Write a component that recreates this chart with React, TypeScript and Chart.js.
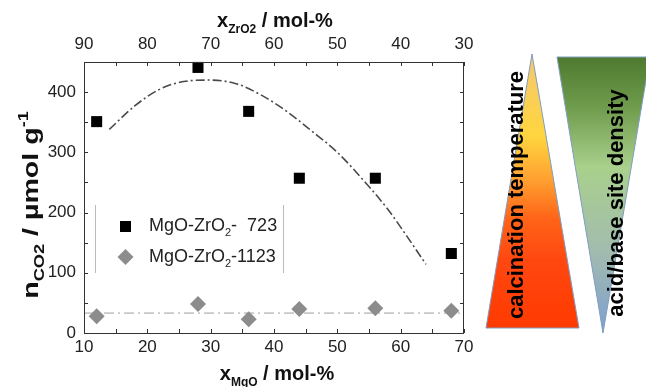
import React, { useEffect, useRef } from 'react';
import { Chart, registerables } from 'chart.js';

Chart.register(...registerables);

// ---- data ----
const mgoContent = [12, 28, 36, 44, 56, 68];
const co2Calc723 = [351, 441, 368, 257, 257, 132];
const co2Calc1123 = [28, 48, 23, 40, 41, 37];
const fit723X = [14, 18, 22, 26, 30, 34, 38, 42, 46, 50, 54, 58, 62, 64];
const fit723Y = [338, 377, 405, 418, 420, 414, 395, 368, 335, 300, 255, 205, 145, 114];
const fit1123X = [10, 70];
const fit1123Y = [33, 33];

const xTicksMgO = [10, 20, 30, 40, 50, 60, 70];
const xMinorMgO = [15, 25, 35, 45, 55, 65];
const xTicksZrO2 = [90, 80, 70, 60, 50, 40, 30];
const xMinorZrO2 = [85, 75, 65, 55, 45, 35];
const yTicks = [0, 100, 200, 300, 400];
const yMinor = [50, 150, 250, 350];

const legendNames = [
  { main: 'MgO-ZrO', sub: '2', tail: '-  723' },
  { main: 'MgO-ZrO', sub: '2', tail: '-1123' },
];
const gradientLabels = ['calcination temperature', 'acid/base site density'];

const FONT = '"Liberation Sans", Arial, sans-serif';

function drawRich(ctx: CanvasRenderingContext2D, parts: { t: string; size: number; dy: number }[], cx: number, cy: number, bold: boolean) {
  let total = 0;
  for (const p of parts) {
    ctx.font = `${bold ? 'bold ' : ''}${p.size}px ${FONT}`;
    total += ctx.measureText(p.t).width;
  }
  let x = cx - total / 2;
  for (const p of parts) {
    ctx.font = `${bold ? 'bold ' : ''}${p.size}px ${FONT}`;
    ctx.fillText(p.t, x, cy + p.dy);
    x += ctx.measureText(p.t).width;
  }
}

const decorPlugin = {
  id: 'decor',
  afterDraw(chart: any) {
    const ctx: CanvasRenderingContext2D = chart.ctx;
    const { left, right, top, bottom } = chart.chartArea;
    const xs = chart.scales.x;
    const xt = chart.scales.x2;
    const ys = chart.scales.y;
    ctx.save();
    // frame
    ctx.strokeStyle = '#333';
    ctx.lineWidth = 1;
    ctx.strokeRect(Math.round(left) + 0.5, Math.round(top) + 0.5, Math.round(right - left) - 1, Math.round(bottom - top));
    // ticks (inward)
    const tl = 4;
    ctx.beginPath();
    [...xTicksMgO, ...xMinorMgO].forEach((v) => {
      const px = Math.round(xs.getPixelForValue(v)) + 0.5;
      ctx.moveTo(px, bottom); ctx.lineTo(px, bottom - tl);
    });
    [...xTicksZrO2, ...xMinorZrO2].forEach((v) => {
      const px = Math.round(xt.getPixelForValue(v)) + 0.5;
      ctx.moveTo(px, top); ctx.lineTo(px, top + tl);
    });
    [...yTicks, ...yMinor].forEach((v) => {
      const py = Math.round(ys.getPixelForValue(v)) + 0.5;
      ctx.moveTo(left, py); ctx.lineTo(left + tl, py);
      ctx.moveTo(right, py); ctx.lineTo(right - tl, py);
    });
    ctx.stroke();

    // axis titles
    ctx.fillStyle = '#111';
    ctx.textBaseline = 'alphabetic';
    ctx.textAlign = 'left';
    drawRich(ctx, [
      { t: 'x', size: 20, dy: 0 },
      { t: 'ZrO2', size: 12, dy: 6 },
      { t: ' / mol-%', size: 20, dy: 0 },
    ], (left + right) / 2 + 1, 27, true);
    drawRich(ctx, [
      { t: 'x', size: 20, dy: 0 },
      { t: 'MgO', size: 12, dy: 6 },
      { t: ' / mol-%', size: 20, dy: 0 },
    ], (left + right) / 2 + 3, 380, true);
    ctx.save();
    ctx.translate(38, 205);
    ctx.rotate(-Math.PI / 2);
    ctx.scale(1.3, 1);
    drawRich(ctx, [
      { t: 'n', size: 22, dy: 0 },
      { t: 'CO2', size: 14, dy: 6 },
      { t: ' / µmol g', size: 22, dy: 0 },
      { t: '-1', size: 14, dy: -10 },
    ], 0, 0, true);
    ctx.restore();

    // legend
    ctx.strokeStyle = '#bbbbbb';
    ctx.beginPath();
    ctx.moveTo(95.5, 205); ctx.lineTo(95.5, 273);
    ctx.moveTo(283.5, 205); ctx.lineTo(283.5, 273);
    ctx.stroke();
    const legY = [226, 257];
    ctx.fillStyle = '#000';
    ctx.fillRect(120, legY[0] - 5, 11, 11);
    ctx.fillStyle = '#8c8c8c';
    ctx.beginPath();
    ctx.moveTo(125.5, legY[1] - 8); ctx.lineTo(133.5, legY[1]); ctx.lineTo(125.5, legY[1] + 8); ctx.lineTo(117.5, legY[1]);
    ctx.closePath(); ctx.fill();
    ctx.fillStyle = '#222';
    ctx.textBaseline = 'middle';
    legendNames.forEach((n, i) => {
      let x = 149;
      const y = legY[i];
      ctx.font = `18px ${FONT}`;
      ctx.fillText(n.main, x, y); x += ctx.measureText(n.main).width;
      ctx.font = `11px ${FONT}`;
      ctx.fillText(n.sub, x, y + 7); x += ctx.measureText(n.sub).width;
      ctx.font = `18px ${FONT}`;
      ctx.fillText(n.tail, x, y);
    });

    // gradient triangles
    const g1 = ctx.createLinearGradient(0, 54, 0, 328);
    g1.addColorStop(0, '#f4c870');
    g1.addColorStop(0.3, '#ffd53f');
    g1.addColorStop(0.46, '#ffa030');
    g1.addColorStop(0.6, '#ff6418');
    g1.addColorStop(0.75, '#ff4810');
    g1.addColorStop(1, '#ff3a00');
    ctx.fillStyle = g1;
    ctx.strokeStyle = '#7f9cc0';
    ctx.lineWidth = 1;
    ctx.beginPath();
    ctx.moveTo(532, 54); ctx.lineTo(579, 328); ctx.lineTo(486, 328); ctx.closePath();
    ctx.fill(); ctx.stroke();

    const g2 = ctx.createLinearGradient(0, 57, 0, 333);
    g2.addColorStop(0, '#4e7a30');
    g2.addColorStop(0.18, '#6f9b4c');
    g2.addColorStop(0.4, '#a9d08c');
    g2.addColorStop(0.7, '#a2bcae');
    g2.addColorStop(1, '#7f9fd0');
    ctx.fillStyle = g2;
    ctx.beginPath();
    ctx.moveTo(557, 57); ctx.lineTo(650, 57); ctx.lineTo(603, 333); ctx.closePath();
    ctx.fill(); ctx.stroke();

    ctx.fillStyle = '#000';
    ctx.textAlign = 'center';
    ctx.textBaseline = 'middle';
    ctx.font = `bold 22px ${FONT}`;
    ctx.save();
    ctx.translate(517, 195); ctx.rotate(-Math.PI / 2);
    ctx.fillText(gradientLabels[0], 0, 0);
    ctx.restore();
    ctx.save();
    ctx.translate(617, 203); ctx.rotate(-Math.PI / 2);
    ctx.fillText(gradientLabels[1], 0, 0);
    ctx.restore();

    ctx.restore();
  },
};

export default function App() {
  const ref = useRef<HTMLCanvasElement>(null);
  useEffect(() => {
    if (!ref.current) return;
    const tickFont = { family: FONT, size: 17 };
    const chart = new Chart(ref.current, {
      type: 'scatter',
      data: {
        datasets: [
          {
            label: 'fit 723',
            data: fit723X.map((x, i) => ({ x, y: fit723Y[i] })),
            showLine: true,
            pointRadius: 0,
            borderColor: '#4a4a4a',
            borderWidth: 1.6,
            borderDash: [9, 3, 2, 3],
            tension: 0.4,
            cubicInterpolationMode: 'monotone',
            order: 3,
          },
          {
            label: 'fit 1123',
            data: fit1123X.map((x, i) => ({ x, y: fit1123Y[i] })),
            showLine: true,
            pointRadius: 0,
            borderColor: '#c8c8c8',
            borderWidth: 1.6,
            borderDash: [10, 4, 2, 4],
            order: 3,
          },
          {
            label: 'MgO-ZrO2-1123',
            data: mgoContent.map((x, i) => ({ x, y: co2Calc1123[i] })),
            pointStyle: 'rectRot',
            pointRadius: 8,
            backgroundColor: '#8c8c8c',
            borderColor: '#8c8c8c',
            borderWidth: 0,
            order: 2,
          },
          {
            label: 'MgO-ZrO2-723',
            data: mgoContent.map((x, i) => ({ x, y: co2Calc723[i] })),
            pointStyle: 'rect',
            pointRadius: 7.8,
            backgroundColor: '#000',
            borderColor: '#000',
            borderWidth: 0,
            order: 1,
          },
        ],
      } as any,
      options: {
        responsive: false,
        animation: false,
        clip: false as any,
        layout: { padding: { left: 0, right: 182, top: 0, bottom: 0 } },
        plugins: { legend: { display: false }, tooltip: { enabled: false } },
        scales: {
          x: {
            type: 'linear',
            position: 'bottom',
            min: 10,
            max: 70,
            afterBuildTicks: (s: any) => { s.ticks = xTicksMgO.map((v) => ({ value: v })); },
            afterFit: (s: any) => { s.height = 54; },
            grid: { display: false, drawTicks: false, tickLength: 0 },
            border: { display: false },
            ticks: { font: tickFont, color: '#222', padding: 4, maxRotation: 0, autoSkip: false },
          },
          x2: {
            type: 'linear',
            position: 'top',
            min: 30,
            max: 90,
            reverse: true,
            afterBuildTicks: (s: any) => { s.ticks = xTicksZrO2.map((v) => ({ value: v })); },
            afterFit: (s: any) => { s.height = 62; },
            grid: { display: false, drawTicks: false, tickLength: 0 },
            border: { display: false },
            ticks: { font: tickFont, color: '#222', padding: 7, maxRotation: 0, autoSkip: false },
          },
          y: {
            type: 'linear',
            min: 0,
            max: 450,
            afterBuildTicks: (s: any) => { s.ticks = yTicks.map((v) => ({ value: v })); },
            afterFit: (s: any) => { s.width = 84; },
            grid: { display: false, drawTicks: false, tickLength: 0 },
            border: { display: false },
            ticks: { font: tickFont, color: '#222', padding: 8, autoSkip: false },
          },
        },
      } as any,
      plugins: [decorPlugin],
    });
    return () => chart.destroy();
  }, []);
  return (
    <div style={{ position: 'fixed', left: 0, top: 0, width: 646, height: 387, background: '#fff' }}>
      <canvas ref={ref} width={646} height={387} style={{ display: 'block' }} />
    </div>
  );
}
